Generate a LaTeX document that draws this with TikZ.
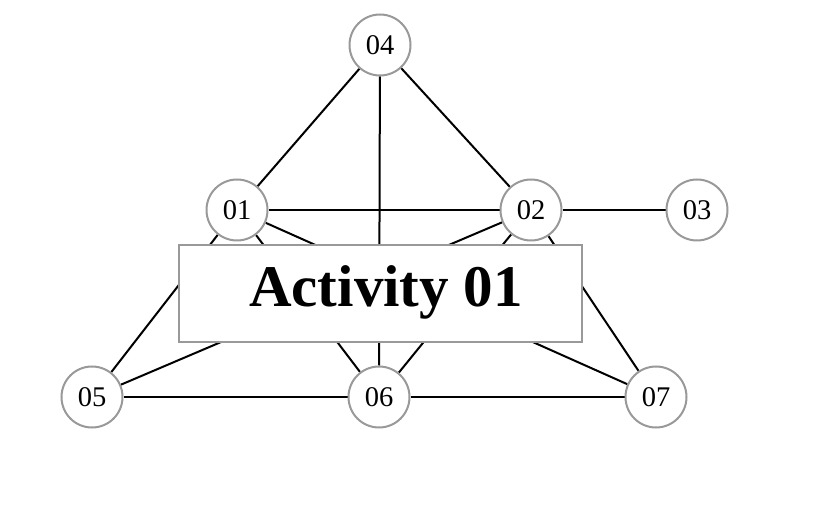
\documentclass[tikz,border=0pt]{standalone}
\usepackage{fontspec}
\setmainfont{Liberation Serif}
\usetikzlibrary{backgrounds}
\definecolor{ringgray}{HTML}{999999}
\begin{document}
\begin{tikzpicture}[x=1pt,y=-1pt,
  vertex/.style={circle,draw=ringgray,line width=2pt,fill=white,minimum size=61pt,inner sep=0pt,font=\fontsize{28.5}{28.5}\selectfont},
  edge/.style={line width=2pt,black},
  titlebox/.style={draw=ringgray,line width=2pt,fill=white,minimum width=403pt,minimum height=97pt,inner sep=0pt},
  titletext/.style={font=\fontsize{59}{59}\selectfont\bfseries,inner sep=0pt,anchor=base}]
\useasboundingbox (0,0) rectangle (815,505);
\node[vertex] (n04) at (380,45) {04};
\node[vertex] (n01) at (237,210) {01};
\node[vertex] (n02) at (531,210) {02};
\node[vertex] (n03) at (697,210) {03};
\node[vertex] (n05) at (92,397) {05};
\node[vertex] (n06) at (379,397) {06};
\node[vertex] (n07) at (656,397) {07};
\begin{scope}[on background layer]
\draw[edge] (n04) -- (n01);
\draw[edge] (n04) -- (n02);
\draw[edge] (n04) -- (n06);
\draw[edge] (n01) -- (n02);
\draw[edge] (n02) -- (n03);
\draw[edge] (n01) -- (n05);
\draw[edge] (n01) -- (n06);
\draw[edge] (n01) -- (n07);
\draw[edge] (n02) -- (n05);
\draw[edge] (n02) -- (n06);
\draw[edge] (n02) -- (n07);
\draw[edge] (n05) -- (n06);
\draw[edge] (n06) -- (n07);
\end{scope}
\node[titlebox] (box) at (380,294) {};
\node[titletext] (title) at (386,307) {Activity 01};
\end{tikzpicture}
\end{document}
